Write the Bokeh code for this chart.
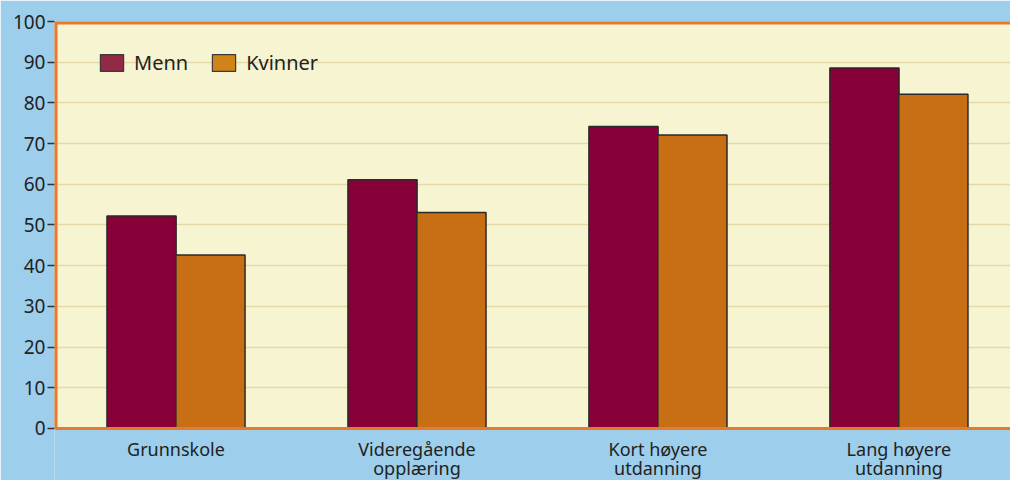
from bokeh.plotting import figure
from bokeh.models import Range1d, FixedTicker, Legend, LegendItem, ColumnDataSource, BoxAnnotation
from bokeh.embed import file_html
from bokeh.resources import INLINE

categories = ["Grunnskole", "Videregående\nopplæring", "Kort høyere\nutdanning", "Lang høyere\nutdanning"]
menn = [52.2, 61.1, 74.2, 88.6]
kvinner = [42.6, 53.1, 72.1, 82.1]
y_ticks = [0, 10, 20, 30, 40, 50, 60, 70, 80, 90, 100]

BLUE = "#9dceeb"
CREAM = "#f7f4d2"
ORANGE = "#e87a2a"
GRID = "#e6d9a8"
MENN_C = "#870037"
KVIN_C = "#c86e14"
TEXT = "#222222"
FONT = "Noto Sans"

Y_MIN, Y_MAX = 0, 100
X_END = 3.963
xs = [i + 0.5 for i in range(len(categories))]
src = ColumnDataSource(dict(
    xm=[x - 0.143 for x in xs], xk=[x + 0.143 for x in xs],
    menn=menn, kvinner=kvinner))
lab_src = ColumnDataSource(dict(x=xs, y=[Y_MIN] * len(xs), text=categories))

# frame runs to the bottom of the canvas so the category labels can sit below 0
p = figure(width=1010, height=480, output_backend="svg", toolbar_location=None,
           x_range=Range1d(-0.0042, X_END), y_range=Range1d(-12.78, Y_MAX),
           min_border_left=54, min_border_right=0, min_border_top=21, min_border_bottom=0)
p.background_fill_color = BLUE
p.border_fill_color = BLUE
p.outline_line_color = None

# cream plot area above the zero line
p.add_layout(BoxAnnotation(bottom=Y_MIN, top=Y_MAX, fill_color=CREAM, fill_alpha=1,
                           line_color=None, level="image"))

# grid
p.xgrid.grid_line_color = None
p.ygrid.ticker = FixedTicker(ticks=[10, 20, 30, 40, 50, 60, 70, 80, 90])
p.ygrid.grid_line_color = GRID
p.ygrid.grid_line_width = 1.5

p.vbar(x="xm", top="menn", width=0.287, source=src, fill_color=MENN_C,
       line_color="#2a2a2a", line_width=1.5)
p.vbar(x="xk", top="kvinner", width=0.287, source=src, fill_color=KVIN_C,
       line_color="#2a2a2a", line_width=1.5)

# orange frame: left, top, bottom
p.segment(x0=[0, 0, 0], y0=[Y_MIN, Y_MAX, Y_MIN], x1=[0, X_END, X_END], y1=[Y_MAX, Y_MAX, Y_MIN],
          line_color=ORANGE, line_width=[4, 6, 3])

# category labels
p.text(x="x", y="y", text="text", source=lab_src, y_offset=9,
       text_align="center", text_baseline="top", text_font={"value": FONT},
       text_font_size="18px", text_color=TEXT, text_line_height=0.78)

# legend swatches (off-range proxies carrying the legend colours)
dm = p.rect(x=[-10], y=[-10], width=1, height=1, fill_color="#922a45", line_color="#3a3a3a", line_width=1.2)
dk = p.rect(x=[-10], y=[-10], width=1, height=1, fill_color="#d08418", line_color="#3a3a3a", line_width=1.2)
legend = Legend(items=[LegendItem(label="Menn", renderers=[dm]),
                       LegendItem(label="Kvinner", renderers=[dk])],
                orientation="horizontal", location=(43, 404),
                background_fill_alpha=0, border_line_color=None,
                glyph_width=29, glyph_height=21, label_standoff=8, spacing=21, padding=0,
                label_text_font=FONT, label_text_font_size="20px", label_text_color=TEXT,
                label_height=21)
p.add_layout(legend)

# y axis
ya = p.yaxis[0]
ya.ticker = FixedTicker(ticks=y_ticks)
ya.axis_line_color = None
ya.major_tick_line_color = "#333333"
ya.major_tick_line_width = 1.5
ya.major_tick_out = 7
ya.major_tick_in = 0
ya.minor_tick_line_color = None
ya.major_label_text_font = FONT
ya.major_label_text_font_size = "19px"
ya.major_label_text_color = TEXT
ya.major_label_standoff = 2

p.xaxis.visible = False

open("out.html", "w").write(file_html(p, INLINE))
